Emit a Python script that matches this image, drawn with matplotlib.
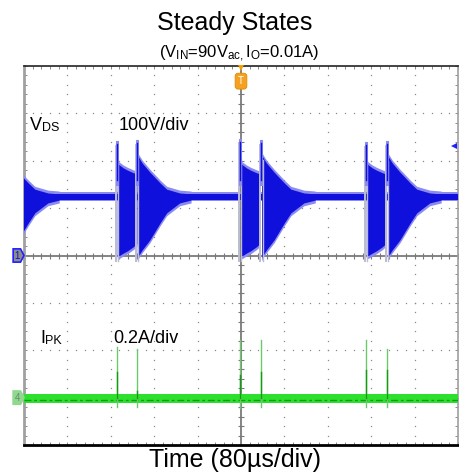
import numpy as np
import matplotlib
matplotlib.use('Agg')
import matplotlib.pyplot as plt
from matplotlib.patches import Polygon

plt.rcParams['font.family'] = ['Liberation Sans', 'DejaVu Sans']
plt.rcParams['mathtext.fontset'] = 'custom'
plt.rcParams['mathtext.rm'] = 'Liberation Sans'

# ---- scope settings ----
t_div = 80.0      # us/div
v_div = 100.0     # V/div (ch1)
i_div = 0.2       # A/div (ch4)
ch4_pos = -3      # ch4 ground, in divisions

# ---- V_DS trace (ch1), times in us ----
pulse_a_t = [171, 398, 630]            # first edge of each burst pair
pulse_a_pk = [240, 244, 238]
pulse_b_t = [-35, 208, 437, 669]       # second edge (first is tail from before screen)
pulse_b_pk = [None, 242, 242, 240]

# ringing envelopes after each edge (us after edge, V)
a_rel = [1, 5, 12, 20, 30, 37]
a_top = [195, 191, 185, 180, 175, 172]
a_bot = [0, 0, 5, 10, 18, 25]
b_rel = [1, 3, 10, 24, 43, 55, 79, 100]
b_top = [215, 208, 195, 176, 153, 140, 132, 130]
b_bot = [-5, 0, 12, 33, 69, 90, 111, 117]

vds_lo, vds_hi = 118, 130              # flat part of the trace

# ---- I_PK trace (ch4) ----
ipk_t = [171, 208, 398, 437, 630, 669]
ipk_peak = [0.214, 0.205, 0.243, 0.243, 0.243, 0.205]
ipk_core = [0.108, 0.03, 0.096, 0.108, 0.116, 0.116]
ipk_dip = [-0.04, -0.04, -0.045, -0.04, -0.04, -0.04]
ipk_lo, ipk_hi = -0.024, 0.016

dark_b = '#1010dc'
light_b = '#8a8af2'
edge_b = '#bcbcd0'
green = '#2ee02e'
dark_g = '#129c12'

fig = plt.figure(figsize=(4.6, 4.75), dpi=100)
ax = fig.add_axes([24/460, 30/475, 434/460, 379/475])
ax.set_xlim(0, 10)
ax.set_ylim(-4, 4)

# grid dots
for gx in range(1, 10):
    if gx != 5:
        yy = np.arange(-4, 4.01, 0.2)
        ax.plot(np.full_like(yy, gx), yy, ls='none', marker='s', ms=0.9, color='#8a8a8a', mew=0, zorder=1)
for gy in range(-3, 4):
    if gy != 0:
        xx = np.arange(0, 10.01, 0.2)
        ax.plot(xx, np.full_like(xx, gy), ls='none', marker='s', ms=0.9, color='#8a8a8a', mew=0, zorder=1)

# centre cross with ticks
ax.axhline(0, color='#7a7a7a', lw=1.3, zorder=1)
ax.axvline(5, color='#7a7a7a', lw=1.3, zorder=1)
xx = np.arange(0, 10.01, 0.2)
ax.plot(xx, np.zeros_like(xx), ls='none', marker='|', ms=5, color='#7a7a7a', mew=0.8, zorder=1)
yy = np.arange(-4, 4.01, 0.2)
ax.plot(np.full_like(yy, 5), yy, ls='none', marker='_', ms=5, color='#7a7a7a', mew=0.8, zorder=1)

# frame
ax.set_xticks(np.arange(0, 10.01, 0.2))
ax.set_yticks(np.arange(-4, 4.01, 0.2))
ax.tick_params(direction='in', length=2.5, width=0.7, color='#8a8a8a',
               top=True, right=True, labelbottom=False, labelleft=False)
ax.spines['top'].set_color('#222222')
ax.spines['top'].set_linewidth(1.2)
ax.spines['bottom'].set_color('#000000')
ax.spines['bottom'].set_linewidth(2)
ax.spines['left'].set_color('#a0a0a0')
ax.spines['left'].set_linewidth(2)
ax.spines['right'].set_color('#a0a0a0')
ax.spines['right'].set_linewidth(1.2)

# ---- ch1: V_DS ----
tx = np.array([0, 800]) / t_div
ax.fill_between(tx, (vds_lo - 3) / v_div, (vds_hi + 3) / v_div, color=light_b, lw=0, zorder=3)
ax.fill_between(tx, vds_lo / v_div, vds_hi / v_div, color=dark_b, lw=0, zorder=4)

def ring(t0, rel, top, bot):
    x = (t0 + np.array(rel)) / t_div
    top = np.array(top, float)
    bot = np.array(bot, float)
    ax.fill_between(x, (bot - 6) / v_div, (top + 6) / v_div, color=light_b, lw=0, zorder=3)
    ax.fill_between(x, bot / v_div, top / v_div, color=dark_b, lw=0, zorder=4)

def spike(t0, pk):
    x = t0 / t_div
    ax.plot([x - 0.02, x - 0.02], [-12 / v_div, (pk - 8) / v_div], color=edge_b, lw=1.4, zorder=5)
    ax.plot([x + 0.035, x + 0.035], [-12 / v_div, (pk - 40) / v_div], color=edge_b, lw=1.0, zorder=5)
    ax.plot([x, x], [150 / v_div, pk / v_div], color=light_b, lw=2.2, zorder=5)
    ax.plot([x + 0.005, x + 0.005], [160 / v_div, (pk - 4) / v_div], color=dark_b, lw=1, zorder=6)

for t0 in pulse_a_t:
    ring(t0, a_rel, a_top, a_bot)
for t0 in pulse_b_t:
    ring(t0, b_rel, b_top, b_bot)
for t0, pk in zip(pulse_a_t, pulse_a_pk):
    spike(t0, pk)
for t0, pk in zip(pulse_b_t, pulse_b_pk):
    if pk is not None:
        spike(t0, pk)

# ---- ch4: I_PK ----
ax.fill_between(tx, ipk_lo / i_div + ch4_pos, ipk_hi / i_div + ch4_pos, color=green, lw=0, zorder=3)
ax.plot(tx, [-0.008 / i_div + ch4_pos] * 2, color=dark_g, lw=1.0, ls=(0, (5, 2, 2, 2)), zorder=4)
for t0, pk, core, dip in zip(ipk_t, ipk_peak, ipk_core, ipk_dip):
    x = t0 / t_div
    ax.plot([x, x], [dip / i_div + ch4_pos, pk / i_div + ch4_pos], color='#6cc86c', lw=1.0, zorder=5)
    ax.plot([x, x], [0 / i_div + ch4_pos, core / i_div + ch4_pos], color=dark_g, lw=1.0, zorder=6)

# ---- markers ----
def tag(y, fc, ec, label, tc):
    pts = [(-0.25, y - 0.14), (-0.08, y - 0.14), (0, y), (-0.08, y + 0.14), (-0.25, y + 0.14)]
    ax.add_patch(Polygon(pts, closed=True, fc=fc, ec=ec, lw=1.2, clip_on=False, zorder=8))
    ax.text(-0.15, y, label, color=tc, fontsize=7, ha='center', va='center', clip_on=False, zorder=9)

tag(0, '#8c8c8c', '#2020ff', '1', '#1010d0')
tag(ch4_pos, '#8fd88f', '#8fd88f', '4', '#6a8a6a')

ax.plot([5], [3.95], marker='v', ms=5, color='#f5a000', mew=0, clip_on=False, zorder=9)
ax.text(5, 3.68, 'T', fontsize=7, color='white', ha='center', va='center', zorder=9,
        bbox=dict(boxstyle='round,pad=0.3', fc='#f5a020', ec='#e08a00', lw=0.6))
ax.plot([9.9], [2.31], marker='<', ms=5, color='#2020ff', mew=0, zorder=9)

# ---- labels ----
t1 = ax.text(0.14, 2.56, 'V', fontsize=13, va='bottom', zorder=9)
ax.annotate('DS', xy=(1, 0), xycoords=t1, fontsize=9, va='bottom', zorder=9)
ax.text(2.17, 2.56, '100V/div', fontsize=13, va='bottom', zorder=9)
t2 = ax.text(0.37, -1.93, 'I', fontsize=13, va='bottom', zorder=9)
ax.annotate('PK', xy=(1, 0), xycoords=t2, fontsize=9, va='bottom', zorder=9)
ax.text(2.05, -1.93, '0.2A/div', fontsize=13, va='bottom', zorder=9)

fig.text(235/460, 1 - 30/475, 'Steady States', ha='center', va='baseline', fontsize=18)
fig.text(239/460, 1 - 57.5/475, r'(V$\mathregular{_{IN}}$=90V$\mathregular{_{ac,}}$I$\mathregular{_{O}}$=0.01A)',
         ha='center', va='baseline', fontsize=12)
fig.text(235/460, 1 - 467/475, 'Time (80µs/div)', ha='center', va='baseline', fontsize=18)

fig.savefig('out.png', dpi=100)
